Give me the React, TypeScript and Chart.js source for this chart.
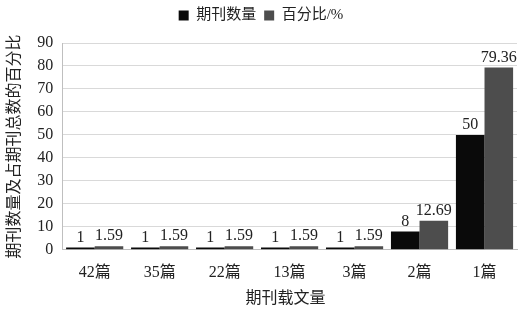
import React, { useEffect, useRef } from "react";
import { Chart, registerables } from "chart.js";

Chart.register(...registerables);

const categories = ["42篇", "35篇", "22篇", "13篇", "3篇", "2篇", "1篇"];
const countValues = [1, 1, 1, 1, 1, 8, 50];
const percentValues = [1.59, 1.59, 1.59, 1.59, 1.59, 12.69, 79.36];
const seriesNames = ["期刊数量", "百分比/%"];
const yTicks = [0, 10, 20, 30, 40, 50, 60, 70, 80, 90];
const xTitle = "期刊载文量";

const FONT = "'Liberation Serif', 'Noto Sans CJK SC', serif";

const labelPlugin = {
  id: "barLabels",
  afterDraw(chart: any) {
    const ctx = chart.ctx;
    ctx.save();
    ctx.font = `16px ${FONT}`;
    ctx.fillStyle = "#222";
    ctx.textAlign = "center";
    ctx.textBaseline = "bottom";
    chart.data.datasets.forEach((ds: any, i: number) => {
      const meta = chart.getDatasetMeta(i);
      meta.data.forEach((bar: any, j: number) => {
        ctx.fillText(String(ds.data[j]), bar.x, bar.y - 2);
      });
    });
    // x axis title
    const area = chart.chartArea;
    ctx.textBaseline = "middle";
    ctx.fillText(xTitle, (area.left + area.right) / 2 - 4, area.bottom + 49);
    ctx.restore();
  },
};

const legendMargin = {
  id: "legendMargin",
  beforeInit(chart: any) {
    const orig = chart.legend.fit;
    chart.legend.fit = function () {
      orig.bind(chart.legend)();
      this.height += 10;
    };
  },
};

export default function App() {
  const ref = useRef<HTMLCanvasElement | null>(null);
  useEffect(() => {
    if (!ref.current) return;
    const chart = new Chart(ref.current, {
      type: "bar",
      data: {
        labels: categories,
        datasets: [
          {
            label: seriesNames[0],
            data: countValues,
            backgroundColor: "#0a0a0a",
            borderWidth: 0,
            categoryPercentage: 0.88,
            barPercentage: 1,
          },
          {
            label: seriesNames[1],
            data: percentValues,
            backgroundColor: "#4d4d4d",
            borderWidth: 0,
            categoryPercentage: 0.88,
            barPercentage: 1,
          },
        ],
      },
      options: {
        animation: false,
        responsive: false,
        maintainAspectRatio: false,
        layout: { padding: { left: 5, right: 13, top: 0, bottom: 15 } },
        plugins: {
          legend: {
            position: "top",
            labels: {
              boxWidth: 10,
              boxHeight: 10,
              color: "#222",
              font: { family: FONT, size: 15 },
              padding: 8,
            },
          },
          tooltip: { enabled: false },
        },
        scales: {
          x: {
            grid: { display: false, drawTicks: false },
            border: { display: true, color: "#bfbfbf" },
            ticks: {
              color: "#222",
              font: { family: FONT, size: 16 },
              padding: 13,
              maxRotation: 0,
              autoSkip: false,
            },
          },
          y: {
            min: 0,
            max: 90,
            afterBuildTicks: (axis: any) => {
              axis.ticks = yTicks.map((v) => ({ value: v }));
            },
            grid: { color: "#d9d9d9", drawTicks: false },
            border: { display: true, color: "#bfbfbf" },
            ticks: {
              color: "#222",
              font: { family: FONT, size: 16 },
              padding: 9,
              autoSkip: false,
            },
            title: {
              display: true,
              text: "期刊数量及占期刊总数的百分比",
              color: "#222",
              font: { family: FONT, size: 16 },
              padding: { top: 0, bottom: 4 },
            },
          },
        },
      },
      plugins: [labelPlugin, legendMargin],
    });
    return () => chart.destroy();
  }, []);
  return (
    <div style={{ position: "fixed", left: 0, top: 0, width: 530, height: 310, background: "#fff" }}>
      <canvas ref={ref} width={530} height={310} style={{ display: "block" }} />
    </div>
  );
}
